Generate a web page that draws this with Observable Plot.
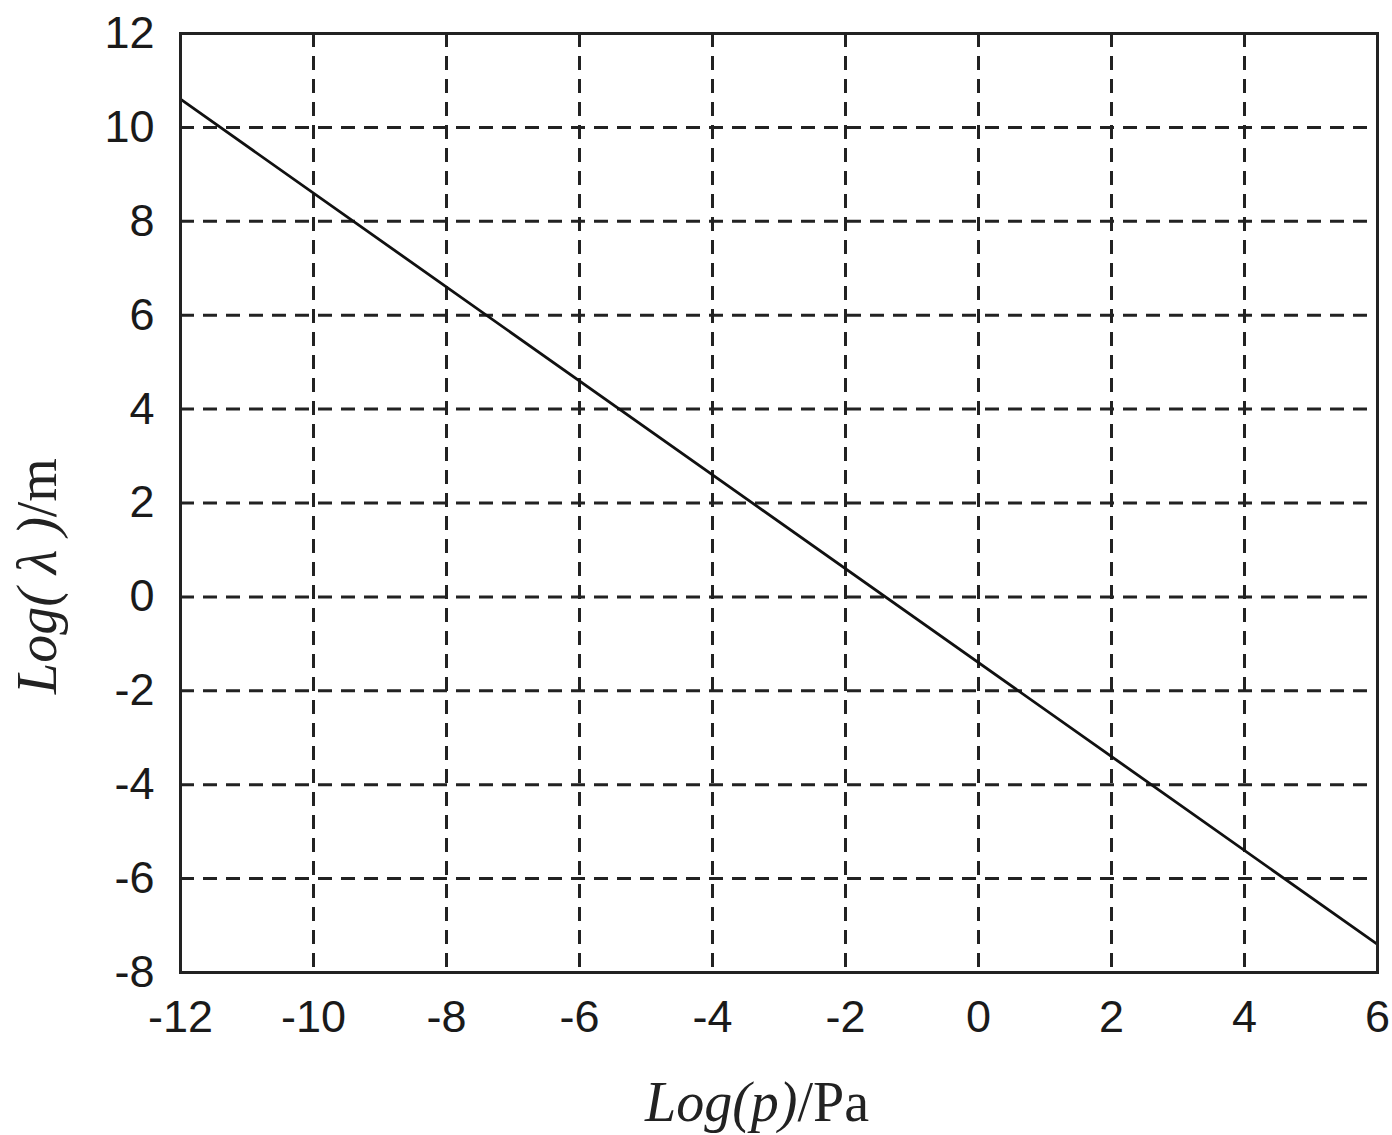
<!DOCTYPE html>
<html>
<head>
<meta charset="utf-8">
<script src="https://cdn.jsdelivr.net/npm/d3@7"></script>
<script src="https://cdn.jsdelivr.net/npm/@observablehq/plot@0.6"></script>
<style>
  html, body { margin: 0; padding: 0; background: #fff; }
  #chart svg { display: block; }
</style>
</head>
<body>
<div id="chart"></div>
<script>
// Data
const logP = [-12, 6];          // Log(p)/Pa
const logLambda = [10.6, -7.4]; // Log(λ)/m
const xTicks = [-12, -10, -8, -6, -4, -2, 0, 2, 4, 6];
const yTicks = [-8, -6, -4, -2, 0, 2, 4, 6, 8, 10, 12];

const lineData = logP.map((p, i) => ({p, l: logLambda[i]}));

const W = 1392, H = 1135;
const chart = Plot.plot({
  width: W,
  height: H,
  marginLeft: 180,
  marginRight: 15,
  marginTop: 33,
  marginBottom: 163,
  style: {fontFamily: "'Liberation Sans', Arial, sans-serif", fontSize: "45px", color: "#1a1a1a", background: "#fff"},
  x: {domain: [-12, 6], ticks: xTicks, label: null, tickSize: 0, tickPadding: 28, tickFormat: d => String(d)},
  y: {domain: [-8, 12], ticks: yTicks, label: null, tickSize: 0, tickPadding: 26, tickFormat: d => String(d)},
  marks: [
    Plot.ruleX(xTicks.slice(1, -1), {stroke: "#222", strokeWidth: 3, strokeDasharray: "14,9"}),
    Plot.ruleY(yTicks.slice(1, -1), {stroke: "#222", strokeWidth: 3, strokeDasharray: "14,9"}),
    Plot.line(lineData, {x: "p", y: "l", stroke: "#111", strokeWidth: 2.8}),
    Plot.frame({stroke: "#222", strokeWidth: 3})
  ]
});

const svg = d3.select(chart);
// x axis label
const xl = svg.append("text")
  .attr("x", 757).attr("y", 1121)
  .attr("text-anchor", "middle")
  .attr("font-family", "'Liberation Serif', 'DejaVu Serif', serif")
  .attr("font-size", 56)
  .attr("fill", "#222");
xl.append("tspan").attr("font-style", "italic").text("Log(p)");
xl.append("tspan").text("/Pa");
// y axis label
const yl = svg.append("text")
  .attr("transform", "translate(56,576) rotate(-90)")
  .attr("text-anchor", "middle")
  .attr("font-family", "'Liberation Serif', 'DejaVu Serif', serif")
  .attr("font-size", 56)
  .attr("fill", "#222");
yl.append("tspan").attr("font-style", "italic").text("Log( λ )");
yl.append("tspan").text("/m");

document.getElementById("chart").appendChild(chart);
</script>
</body>
</html>
